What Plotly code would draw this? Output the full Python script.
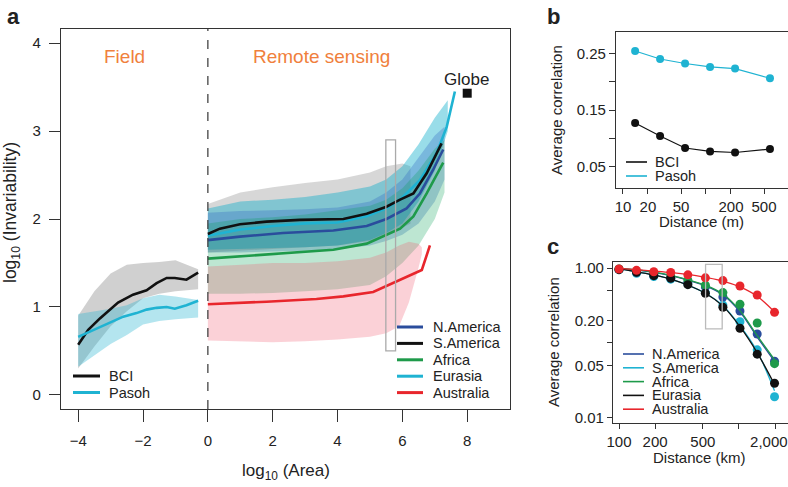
import plotly.graph_objects as go

W, H = 788, 487
FONT = "Liberation Sans, Arial, Helvetica, sans-serif"

# ---------------- Panel a : field plots ----------------
bci_area = [-4.0, -3.69, -3.33, -2.77, -2.31, -1.89, -1.58, -1.27, -1.02, -0.66, -0.30]
bci_inv = [0.57, 0.74, 0.87, 1.05, 1.14, 1.19, 1.27, 1.33, 1.33, 1.31, 1.39]
pasoh_area = [-4.0, -3.64, -3.02, -2.61, -2.20, -1.89, -1.58, -1.27, -1.02, -0.66, -0.30]
pasoh_inv = [0.66, 0.72, 0.83, 0.89, 0.93, 0.97, 0.99, 1.00, 0.98, 1.02, 1.07]
field_band_area = [-4.0, -3.5, -3.0, -2.5, -2.0, -1.5, -1.0, -0.3]
bci_hi = [0.90, 1.18, 1.38, 1.48, 1.50, 1.51, 1.53, 1.43]
bci_lo = [0.30, 0.55, 0.78, 0.95, 1.10, 1.15, 1.18, 1.20]
pasoh_hi = [0.92, 0.95, 0.98, 1.02, 1.10, 1.14, 1.12, 1.08]
pasoh_lo = [0.32, 0.45, 0.58, 0.68, 0.80, 0.84, 0.86, 0.88]

# ---------------- Panel a : remote sensing ----------------
sam_area = [0, 0.37, 0.99, 1.81, 2.84, 4.18, 4.9, 5.51, 5.93, 6.34, 6.75, 7.21]
sam_inv = [1.83, 1.89, 1.94, 1.97, 1.99, 2.00, 2.06, 2.14, 2.22, 2.29, 2.52, 2.86]
nam_area = [0, 0.99, 2.32, 3.87, 4.9, 5.51, 6.13, 6.54, 6.95, 7.26]
nam_inv = [1.76, 1.80, 1.84, 1.87, 1.92, 2.00, 2.12, 2.29, 2.56, 2.79]
afr_area = [0, 0.78, 2.32, 3.87, 4.9, 5.51, 5.93, 6.34, 6.75, 7.26]
afr_inv = [1.55, 1.57, 1.61, 1.65, 1.72, 1.82, 1.89, 2.03, 2.29, 2.64]
eur_area = [0, 1, 2, 3, 4, 4.9, 5.5, 5.93, 6.54, 7.06, 7.37, 7.62]
eur_inv = [1.81, 1.88, 1.92, 1.95, 1.96, 2.03, 2.12, 2.22, 2.44, 2.75, 3.05, 3.45]
aus_area = [0, 0.78, 1.81, 3.35, 4.18, 5.1, 5.72, 6.6, 6.85]
aus_inv = [1.03, 1.04, 1.06, 1.09, 1.12, 1.17, 1.27, 1.42, 1.70]

sam_band_area = [0, 1, 2, 3, 4, 5, 5.5, 6, 6.25]
sam_hi = [2.17, 2.30, 2.36, 2.41, 2.45, 2.53, 2.60, 2.63, 2.60]
sam_lo = [1.62, 1.64, 1.66, 1.68, 1.70, 1.75, 1.82, 1.90, 1.95]
eur_band_area = [0, 1, 2, 3, 4, 5, 5.5, 6, 6.5, 7, 7.4]
eur_hi = [2.12, 2.20, 2.22, 2.25, 2.30, 2.37, 2.45, 2.60, 2.85, 3.15, 3.35]
eur_lo = [1.65, 1.66, 1.67, 1.68, 1.70, 1.76, 1.84, 1.95, 2.20, 2.55, 3.00]
nam_band_area = [0, 1, 2, 3, 4, 5, 5.5, 6, 6.5, 7, 7.3]
nam_hi = [2.07, 2.09, 2.10, 2.11, 2.13, 2.20, 2.30, 2.45, 2.70, 2.95, 3.05]
nam_lo = [1.62, 1.62, 1.63, 1.64, 1.66, 1.70, 1.75, 1.82, 1.95, 2.20, 2.45]
afr_band_area = [0, 1, 2, 3, 4, 5, 5.5, 6, 6.5, 7, 7.3]
afr_hi = [1.95, 2.00, 2.02, 2.05, 2.10, 2.15, 2.22, 2.35, 2.55, 2.80, 2.90]
afr_lo = [1.15, 1.15, 1.16, 1.18, 1.20, 1.25, 1.35, 1.50, 1.70, 2.00, 2.30]
aus_band_area = [0, 1, 2, 3, 4, 5, 5.5, 5.9, 6.2, 6.5, 6.6]
aus_hi = [1.46, 1.48, 1.50, 1.50, 1.52, 1.56, 1.62, 1.70, 1.74, 1.72, 1.68]
aus_lo = [0.62, 0.61, 0.60, 0.61, 0.63, 0.66, 0.70, 0.78, 1.05, 1.45, 1.60]

globe_area = [8.0]
globe_inv = [3.43]
highlight_a = dict(x0=5.49, x1=5.79, y0=0.50, y1=2.90)

# ---------------- Panel b ----------------
dist_m = [14, 28, 56, 112, 224, 590]
bci_corr = [0.127, 0.104, 0.083, 0.077, 0.075, 0.081]
pasoh_corr = [0.254, 0.240, 0.232, 0.226, 0.223, 0.206]

# ---------------- Panel c ----------------
dist_km = [100, 140, 195, 270, 375, 525, 735, 1020, 1420, 1980]
nam_corr = [0.96, 0.88, 0.80, 0.74, 0.64, 0.56, 0.41, 0.267, 0.132, 0.057]
sam_corr = [0.95, 0.85, 0.77, 0.71, 0.61, 0.47, 0.32, 0.192, 0.081, 0.0192]
afr_corr = [0.97, 0.91, 0.84, 0.78, 0.69, 0.59, 0.47, 0.328, 0.185, 0.053]
eur_corr = [0.95, 0.875, 0.79, 0.73, 0.60, 0.46, 0.30, 0.157, 0.071, 0.029]
aus_corr = [0.97, 0.93, 0.89, 0.87, 0.81, 0.74, 0.68, 0.575, 0.436, 0.256]
nam_fit = [0.99, 0.94, 0.876, 0.79, 0.69, 0.58, 0.44, 0.26, 0.12, 0.057]
sam_fit = [0.98, 0.89, 0.81, 0.71, 0.59, 0.46, 0.315, 0.17, 0.077, 0.023]
afr_fit = [0.99, 0.945, 0.88, 0.80, 0.70, 0.59, 0.45, 0.27, 0.125, 0.060]
eur_fit = [0.98, 0.89, 0.81, 0.71, 0.59, 0.46, 0.31, 0.165, 0.074, 0.028]
aus_fit = [0.99, 0.95, 0.91, 0.87, 0.82, 0.75, 0.67, 0.56, 0.42, 0.26]
highlight_c = dict(x0=527, x1=725, y0=0.154, y1=1.12)

# colours
C_BLACK = "#111111"
C_BLUE = "#2a4d9c"
C_GREEN = "#1e9a4a"
C_CYAN = "#1fb3d2"
C_RED = "#e8262c"
C_ORANGE = "#f0803c"

fig = go.Figure()


def band(x, hi, lo, color, xa="x", ya="y"):
    fig.add_trace(go.Scatter(x=list(x) + list(x)[::-1], y=list(hi) + list(lo)[::-1],
                             fill="toself", fillcolor=color, mode="lines",
                             line=dict(width=0), hoverinfo="skip", showlegend=False,
                             xaxis=xa, yaxis=ya))


def line(x, y, color, width=2.6, xa="x", ya="y", mode="lines", msize=0, shape="linear"):
    fig.add_trace(go.Scatter(x=x, y=y, mode=mode, line=dict(color=color, width=width, shape=shape),
                             marker=dict(color=color, size=msize), showlegend=False,
                             xaxis=xa, yaxis=ya))


# panel a bands
band(field_band_area, bci_hi, bci_lo, "rgba(150,150,150,0.45)")
band(field_band_area, pasoh_hi, pasoh_lo, "rgba(40,180,210,0.35)")
band(sam_band_area, sam_hi, sam_lo, "rgba(130,130,130,0.32)")
band(eur_band_area, eur_hi, eur_lo, "rgba(0,170,200,0.40)")
band(nam_band_area, nam_hi, nam_lo, "rgba(40,90,190,0.28)")
band(afr_band_area, afr_hi, afr_lo, "rgba(0,160,80,0.26)")
band(aus_band_area, aus_hi, aus_lo, "rgba(240,90,110,0.28)")

# panel a lines
line(bci_area, bci_inv, C_BLACK)
line(pasoh_area, pasoh_inv, C_CYAN)
line(aus_area, aus_inv, C_RED)
line(afr_area, afr_inv, C_GREEN)
line(nam_area, nam_inv, C_BLUE)
line(eur_area, eur_inv, C_CYAN)
line(sam_area, sam_inv, C_BLACK)
fig.add_trace(go.Scatter(x=globe_area, y=globe_inv, mode="markers",
                         marker=dict(symbol="square", size=9, color=C_BLACK),
                         showlegend=False, xaxis="x", yaxis="y"))

# panel b
line(dist_m, bci_corr, C_BLACK, width=1.2, xa="x2", ya="y2", mode="lines+markers", msize=8)
line(dist_m, pasoh_corr, C_CYAN, width=1.2, xa="x2", ya="y2", mode="lines+markers", msize=8)

# panel c
for pts, fit, col in [(sam_corr, sam_fit, C_CYAN), (nam_corr, nam_fit, C_BLUE),
                      (afr_corr, afr_fit, C_GREEN), (eur_corr, eur_fit, C_BLACK),
                      (aus_corr, aus_fit, C_RED)]:
    fig.add_trace(go.Scatter(x=dist_km, y=pts, mode="markers", marker=dict(color=col, size=9),
                             showlegend=False, xaxis="x3", yaxis="y3"))
    line(dist_km, fit, col, width=1.3, xa="x3", ya="y3", shape="spline")


def px(x):
    return x / W


def py(y):
    return 1 - y / H


axis_common = dict(showgrid=False, zeroline=False, showline=True, linecolor="#333333",
                   linewidth=1.2, ticks="outside", tickcolor="#333333", tickwidth=1.2,
                   automargin=False, ticklabeloverflow="allow",
                   tickfont=dict(family=FONT, size=15, color="#222222"))

NBSP = "\u00a0"

fig.update_layout(
    template="none",
    width=W, height=H, margin=dict(l=0, r=0, t=0, b=0, pad=0),
    paper_bgcolor="white", plot_bgcolor="white", showlegend=False,
    font=dict(family=FONT, color="#222222"),
    xaxis=dict(domain=[px(61), px(510)], range=[-4.53, 9.32], tickvals=[-4, -2, 0, 2, 4, 6, 8],
               ticklen=12, mirror=True, ticklabelstandoff=6, anchor="y", **axis_common),
    yaxis=dict(domain=[py(409), py(29)], range=[-0.16, 4.16], tickvals=[0, 1, 2, 3, 4],
               ticklen=11, mirror=True, ticklabelstandoff=5, anchor="x", **axis_common),
    xaxis2=dict(domain=[px(616), 1.0], type="log", range=[0.916, 2.988],
                tickvals=[10, 20, 50, 200, 500], ticktext=["10", "20", "50", "200", "500"],
                minor=dict(tickvals=[100], ticks="outside", ticklen=5, tickcolor="#333333", tickwidth=1.2),
                ticklen=5, mirror=True, anchor="y2", **axis_common),
    yaxis2=dict(domain=[py(188), py(32)], range=[0.0124, 0.2876],
                tickvals=[0.05, 0.15, 0.25], ticktext=["0.05", "0.15", "0.25"],
                minor=dict(tickvals=[0.10, 0.20], ticks="outside", ticklen=6, tickcolor="#333333", tickwidth=1.2),
                ticklen=6, anchor="x2", **axis_common),
    xaxis3=dict(domain=[px(613), 1.0], type="log", range=[1.95, 3.409],
                tickvals=[100, 200, 500, 2000],
                ticktext=["100", "200", "500", "2,000" + NBSP * 3],
                minor=dict(tickvals=[1000], ticks="outside", ticklen=5, tickcolor="#333333", tickwidth=1.2),
                ticklen=5, mirror=True, anchor="y3", **axis_common),
    yaxis3=dict(domain=[py(423), py(262)], type="log", range=[-2.067, 0.08],
                tickvals=[0.01, 0.05, 0.2, 1.0], ticktext=["0.01", "0.05", "0.20", "1.00"],
                minor=dict(tickvals=[0.1, 0.5], ticks="outside", ticklen=5, tickcolor="#333333", tickwidth=1.2),
                ticklen=5, anchor="x3", **axis_common),
)

shapes = [
    dict(type="line", xref="x", yref="y domain", x0=0, x1=0, y0=0, y1=1,
         line=dict(color="#444444", width=1.3, dash="dash")),
    dict(type="rect", xref="x", yref="y", line=dict(color="#aaaaaa", width=1.3), **highlight_a),
    dict(type="rect", xref="x3", yref="y3", line=dict(color="#bbbbbb", width=1.3), **highlight_c),
]
annotations = []


def ann(text, x, y, size, xref="paper", yref="paper", color="#222222", xanchor="center",
        yanchor="middle", angle=0, bold=False):
    if bold:
        text = "<b>" + text + "</b>"
    annotations.append(dict(text=text, x=x, y=y, xref=xref, yref=yref, showarrow=False,
                            font=dict(family=FONT, size=size, color=color),
                            xanchor=xanchor, yanchor=yanchor, textangle=angle))


# panel letters
ann("a", px(13), py(16), 22, bold=True)
ann("b", px(553), py(16), 22, bold=True)
ann("c", px(553), py(246), 22, bold=True)

# axis titles
ann("log<sub>10</sub> (Area)", px(286), py(472), 17)
ann("log<sub>10</sub> (Invariability)", px(11), py(213), 17.5, angle=-90)
ann("Distance (m)", px(701), py(221), 15)
ann("Average correlation", px(556), py(110), 15, angle=-90)
ann("Distance (km)", px(699), py(457), 15)
ann("Average correlation", px(553), py(342), 15, angle=-90)

# panel a text
ann("Field", -2.56, 3.85, 19, xref="x", yref="y", color=C_ORANGE)
ann("Remote sensing", 3.5, 3.85, 19, xref="x", yref="y", color=C_ORANGE)
ann("Globe", 7.98, 3.59, 17, xref="x", yref="y")


def legend(items, x0, x1, xt, y_first, step, size, lw):
    for i, (name, col) in enumerate(items):
        yy = y_first + i * step
        shapes.append(dict(type="line", xref="paper", yref="paper", x0=px(x0), x1=px(x1),
                           y0=py(yy), y1=py(yy), line=dict(color=col, width=lw)))
        ann(name, px(xt), py(yy), size, xanchor="left")


legend([("BCI", C_BLACK), ("Pasoh", C_CYAN)], 73, 100, 107, 376, 16.5, 14.5, 3)
legend([("N.America", C_BLUE), ("S.America", C_BLACK), ("Africa", C_GREEN),
        ("Eurasia", C_CYAN), ("Australia", C_RED)], 397, 423, 431, 327, 16.4, 14.5, 3)
legend([("BCI", C_BLACK), ("Pasoh", C_CYAN)], 626, 647, 653, 162, 14, 14.5, 1.6)
legend([("N.America", C_BLUE), ("S.America", C_CYAN), ("Africa", C_GREEN),
        ("Eurasia", C_BLACK), ("Australia", C_RED)], 623, 644, 650, 354, 13.8, 14.5, 1.6)

fig.update_layout(shapes=shapes, annotations=annotations)
fig.write_html("out.html", config={"displayModeBar": False},
               post_script="document.body.style.margin='0';document.body.style.overflow='hidden';")
